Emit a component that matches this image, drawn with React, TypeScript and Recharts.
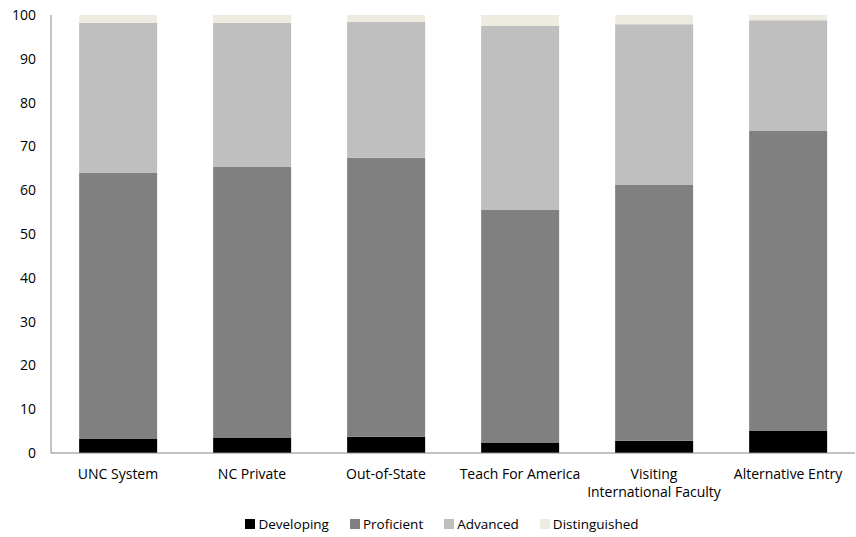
import React from "react";
import { BarChart, Bar, XAxis, YAxis } from "recharts";

const categories = ["UNC System", "NC Private", "Out-of-State", "Teach For America", "Visiting International Faculty", "Alternative Entry"];
const developing = [3.2, 3.4, 3.7, 2.3, 2.8, 5.0];
const proficient = [60.7, 61.9, 63.7, 53.2, 58.4, 68.5];
const advanced = [34.3, 32.9, 31.0, 42.0, 36.7, 25.3];
const distinguished = [1.8, 1.8, 1.6, 2.5, 2.1, 1.2];
const yTicks = [0, 10, 20, 30, 40, 50, 60, 70, 80, 90, 100];

const seriesNames = ["Developing", "Proficient", "Advanced", "Distinguished"];
const colors = ["#000000", "#808080", "#bfbfbf", "#eeece1"];

const data = categories.map((c, i) => ({
  name: c,
  Developing: developing[i],
  Proficient: proficient[i],
  Advanced: advanced[i],
  Distinguished: distinguished[i],
}));

const FONT = "'Open Sans', sans-serif";

const XTick = (props: any) => {
  const { x, y, payload } = props;
  const label: string = payload.value;
  let lines = [label];
  if (label.length > 20) {
    const idx = label.indexOf(" ");
    lines = [label.slice(0, idx), label.slice(idx + 1)];
  }
  return (
    <g transform={`translate(${x},${y})`}>
      {lines.map((l, i) => (
        <text key={i} x={0} y={18 + i * 18} textAnchor="middle" fill="#000" fontSize={14} fontFamily={FONT}>
          {l}
        </text>
      ))}
    </g>
  );
};

const YTick = (props: any) => {
  const { y, payload } = props;
  return (
    <text x={36} y={y + 5} textAnchor="end" fill="#000" fontSize={14} fontFamily={FONT}>
      {payload.value}
    </text>
  );
};

export default function App() {
  const legendItems = seriesNames.map((n, i) => ({ n, c: colors[i] }));
  return (
    <div style={{ position: "absolute", left: 0, top: 0, width: 856, height: 537, background: "#fff" }}>
      <BarChart
        width={856}
        height={537}
        data={data}
        margin={{ top: 15, right: 1, bottom: 0, left: 0 }}
        barCategoryGap="21%"
      >
        <YAxis
          domain={[0, 100]}
          ticks={yTicks}
          width={51}
          tickLine={false}
          axisLine={{ stroke: "#868686" }}
          tick={<YTick />}
          interval={0}
        />
        <XAxis
          dataKey="name"
          height={84}
          tickLine={false}
          axisLine={{ stroke: "#868686" }}
          tick={<XTick />}
          interval={0}
        />
        {seriesNames.map((s, i) => (
          <Bar key={s} dataKey={s} stackId="a" fill={colors[i]} isAnimationActive={false} />
        ))}
      </BarChart>
      <div
        style={{
          position: "absolute",
          top: 515,
          left: 14,
          width: 856,
          display: "flex",
          justifyContent: "center",
          fontFamily: FONT,
          fontSize: 13.5,
          color: "#000",
        }}
      >
        {legendItems.map((it, i) => (
          <div key={it.n} style={{ display: "flex", alignItems: "center", marginLeft: i === 0 ? 0 : 21 }}>
            <span style={{ display: "inline-block", width: 10, height: 10, background: it.c, marginRight: 3 }} />
            <span>{it.n}</span>
          </div>
        ))}
      </div>
    </div>
  );
}
